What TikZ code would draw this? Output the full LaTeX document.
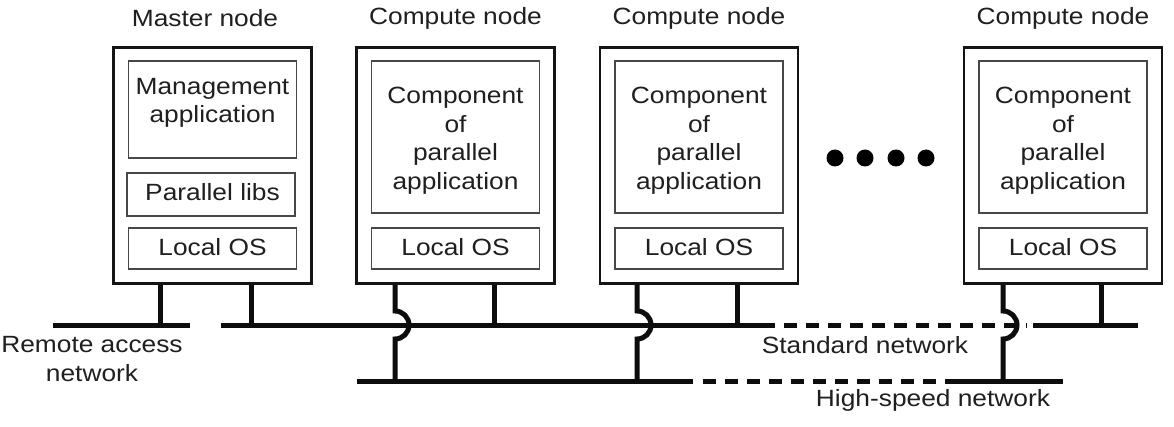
\documentclass[tikz,border=0pt]{standalone}
\usepackage{fontspec}
\setmainfont{Liberation Sans}[FakeStretch=1.12]
\begin{document}
\begin{tikzpicture}[x=1pt,y=-1pt,
  every node/.style={font=\fontsize{23.5}{28.5}\selectfont, text=black!88},
  outer/.style={draw=black!92, line width=2.8pt, minimum width=198pt, minimum height=236pt, inner sep=0pt},
  inbox/.style={draw=black!72, line width=1.6pt, minimum width=168pt, inner sep=0pt},
  txt/.style={align=center, inner sep=0pt},
  net/.style={line width=5pt, draw=black!95},
  dnet/.style={line width=5pt, draw=black!95, dash pattern=on 13pt off 9pt},
  dot/.style={circle, fill=black, minimum size=17pt, inner sep=0pt}]
\useasboundingbox[fill=white] (0,0) rectangle (1174,427);

% --- titles
\node[txt] (tm) at (205,18) {Master node};
\node[txt] (t1) at (455.5,18) {Compute node};
\node[txt] (t2) at (699,18) {Compute node};
\node[txt] (t3) at (1063,18) {Compute node};

% --- master node
\node[outer] (m) at (212.5,165.5) {};
\node[inbox, minimum height=97pt] (mA) at (212.5,109.5) {};
\node[txt] (mAt) at (212.5,103) {Management\\application};
\node[inbox, minimum height=43pt] (mL) at (211,194.5) {};
\node[txt] (mLt) at (212.5,192) {Parallel libs};
\node[inbox, minimum height=41pt] (mO) at (212.5,248.5) {};
\node[txt] (mOt) at (212.5,247.5) {Local OS};

% --- compute nodes
\foreach \n/\cx in {1/455.5, 2/699, 3/1063} {
  \node[outer] (c\n) at (\cx,165.5) {};
  \node[inbox, minimum height=152pt] (c\n A) at (\cx,137) {};
  \node[txt] (c\n At) at (\cx,140.5) {Component\\of\\parallel\\application};
  \node[inbox, minimum height=41pt] (c\n O) at (\cx,248.5) {};
  \node[txt] (c\n Ot) at (\cx,247.5) {Local OS};
}

% --- dots
\node[dot] (d1) at (835,158) {};
\node[dot] (d2) at (865,158) {};
\node[dot] (d3) at (896,158) {};
\node[dot] (d4) at (926,158) {};

% --- network coordinates
\coordinate (ra1) at (53,325);
\coordinate (ra2) at (190,325);
\coordinate (sn1) at (221,325);
\coordinate (sn2) at (762,325);
\coordinate (sn3) at (1027,325);
\coordinate (sn4) at (1033,325);
\coordinate (sn5) at (1138,325);
\coordinate (hs1) at (357,381);
\coordinate (hs2) at (693,381);
\coordinate (hs3) at (703,381);
\coordinate (hs4) at (947,381);
\coordinate (hs5) at (1063,381);

% networks
\draw[net] (ra1) -- (ra2);
\draw[net] (sn1) -- (sn2);
\draw[dnet] (sn2) -- (sn3);
\draw[net] (sn4) -- (sn5);
\draw[net] (hs1) -- (hs2);
\draw[dnet] (hs3) -- (hs4);
\draw[net] (hs4) -- (hs5);

% master stubs
\coordinate (mS1) at (160,325);
\coordinate (mS2) at (251,325);
\draw[net] (m.south -| mS1) -- (mS1);
\draw[net] (m.south -| mS2) -- (mS2);

% compute stubs: right stub to standard network, left stub jumps to high-speed network
\foreach \n/\lx/\rx in {1/395/494, 2/637/737, 3/1003/1101} {
  \coordinate (c\n R) at (\rx,325);
  \coordinate (c\n J) at (\lx,311);
  \coordinate (c\n H) at (\lx,381);
  \draw[net] (c\n.south -| c\n R) -- (c\n R);
  \draw[net] (c\n.south -| c\n J) -- (c\n J)
     arc[start angle=-90, end angle=90, radius=14] -- (c\n H);
}

% --- labels
\node[txt] (lra) at (92,359) {Remote access\\network};
\node[txt] (lsn) at (865,345) {Standard network};
\node[txt] (lhs) at (933,400) {High-speed network};
\end{tikzpicture}
\end{document}
